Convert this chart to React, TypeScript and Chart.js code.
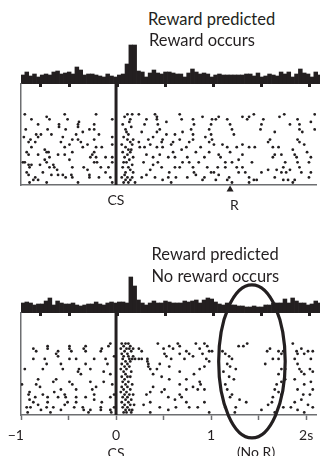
import React, { useEffect, useRef } from 'react';
import { Chart, registerables } from 'chart.js';

Chart.register(...registerables);

const INK = '#231f20';
const AXIS_GREY = '#6d6e71';
const FONT = 'Lato, "Open Sans", sans-serif';

const T_MIN = -1;
const T_MAX = 2.104;
const CS_TIME = 0;
const REWARD_TIME = 1.2;
const NO_REWARD_TIME = 1.43;
const ELLIPSE_HALF_WIDTH = 0.35;
const ELLIPSE_CENTER_TRIAL = 21;
const ELLIPSE_HALF_HEIGHT = 30;
const TRIAL_MAX = 40;
const HIST_MAX = 44;

const HIST_TICKS = [-0.8, -0.5, 0, 0.5, 1, 1.5, 2];
const AXIS_TICKS = [-1, -0.5, 0, 0.5, 1, 1.5, 2];
const AXIS_LABELS: (string | string[])[] = ['−1\u2003', '', ['0', 'CS'], '', '1', '', '2s'];

const BIN_CENTERS = [
  -0.98, -0.94, -0.9, -0.86, -0.82, -0.78, -0.74, -0.7, -0.66, -0.62,
  -0.58, -0.54, -0.5, -0.46, -0.42, -0.38, -0.34, -0.3, -0.26, -0.22,
  -0.18, -0.14, -0.1, -0.06, -0.02, 0.02, 0.06, 0.1, 0.14, 0.18,
  0.22, 0.26, 0.3, 0.34, 0.38, 0.42, 0.46, 0.5, 0.54, 0.58,
  0.62, 0.66, 0.7, 0.74, 0.78, 0.82, 0.86, 0.9, 0.94, 0.98,
  1.02, 1.06, 1.1, 1.14, 1.18, 1.22, 1.26, 1.3, 1.34, 1.38,
  1.42, 1.46, 1.5, 1.54, 1.58, 1.62, 1.66, 1.7, 1.74, 1.78,
  1.82, 1.86, 1.9, 1.94, 1.98, 2.02, 2.06, 2.1,
];

const HIST_REWARD = [
  9, 12, 8, 10, 7, 9, 10, 9, 12, 13,
  10, 11, 12, 10, 17, 14, 9, 10, 10, 9,
  8, 7, 10, 8, 7, 9, 10, 20, 39, 39,
  13, 12, 7, 11, 14, 11, 10, 12, 12, 11,
  10, 10, 7, 11, 15, 12, 10, 11, 10, 7,
  9, 10, 9, 9, 9, 9, 9, 9, 10, 10,
  8, 11, 7, 8, 10, 9, 8, 12, 10, 12,
  7, 10, 15, 11, 10, 7, 12, 9,
];

const HIST_NO_REWARD = [
  10, 11, 10, 8, 9, 9, 12, 15, 8, 12,
  10, 9, 9, 10, 8, 7, 8, 9, 9, 11,
  9, 8, 10, 11, 10, 11, 11, 10, 36, 27,
  13, 10, 8, 10, 12, 10, 10, 12, 11, 10,
  10, 10, 12, 11, 12, 13, 10, 13, 15, 14,
  11, 9, 8, 10, 8, 8, 7, 7, 6, 6,
  7, 6, 6, 8, 8, 10, 10, 10, 14, 10,
  15, 12, 10, 10, 8, 9, 12, 10,
];

// spike times (s) per trial, trial 1 at the bottom
const RASTER_REWARD: number[][] = [
  [-0.91, -0.73, -0.4, -0.04, 0.08, 0.13, 0.2, 0.58, 1.22, 1.4, 1.86],
  [-0.87, -0.82, 0.1, 0.15, 0.49, 0.91, 1.05, 1.17, 1.45, 1.48, 1.76, 1.81, 1.88],
  [-0.85, -0.53, -0.46, -0.28, -0.18, -0.06, 0.06, 0.12, 0.17, 0.27, 0.41, 0.55, 0.63, 0.75, 0.93, 1.19, 1.4, 1.67, 2.03],
  [-0.92, -0.68, -0.61, -0.56, -0.47, -0.28, 0.09, 0.32, 0.84, 1.08],
  [-0.94, -0.77, -0.11, 0.1, 0.18, 0.56, 0.82, 1.0, 1.03, 1.29, 1.36, 1.53, 1.74, 1.79, 1.95, 2.05],
  [-0.62, -0.3, 0.15, 0.36, 1.6, 1.69, 1.83],
  [-0.91, -0.7, -0.65, -0.46, -0.34, -0.16, -0.08, 0.07, 0.13, 0.48, 0.62, 0.67, 0.81, 0.96, 1.07, 1.15, 1.27, 1.33, 1.76, 1.93],
  [-0.92, -0.89, -0.8, -0.66, 0.17, 0.39],
  [-0.98, -0.96, -0.73, -0.23, -0.2, -0.04, 0.08, 0.11, 0.29, 0.44, 0.7, 0.77, 0.87, 1.15, 1.22, 1.43, 1.78, 1.91, 2.03],
  [-0.75, -0.49, 0.14, 1.29],
  [-0.7, -0.27, -0.21, -0.11, -0.04, 0.09, 0.18, 0.39, 0.55, 0.62, 0.75, 0.93, 1.1, 1.65, 1.9, 2.05],
  [-0.92, -0.82, -0.61, -0.54, -0.25, 0.12, 0.32, 0.46, 1.08, 1.33, 1.67, 1.74, 1.88],
  [-0.94, -0.73, -0.71, -0.46, -0.23, 0.07, 0.15, 0.6, 0.84, 0.98, 1.2, 2.01],
  [-0.75, 0.13, 0.16, 0.69, 1.86],
  [-0.89, -0.54, -0.35, -0.21, -0.15, 0.1, 0.25, 0.3, 0.43, 0.49, 0.74, 0.89, 1.17, 1.27, 1.4, 1.46, 1.65, 1.71],
  [-0.49, -0.3, -0.04, 0.06, 0.17, 0.36, 0.58, 1.03, 1.12, 1.33, 1.98],
  [-0.92, -0.85, -0.58, -0.37, 0.15, 0.24, 0.48, 0.6, 0.77, 0.98, 1.6, 1.93],
  [-0.9, -0.46, -0.4, -0.23, 0.12, 0.18, 0.34, 0.49, 0.67, 0.81, 1.01, 1.62, 1.91],
  [-0.97, -0.82, -0.56, -0.04, 0.08, 0.39, 0.94],
  [-0.84, -0.79, -0.68, -0.42, -0.18, 0.13, 0.53, 0.62, 0.81, 1.0, 1.24],
  [-0.35, 0.11, 0.27, 0.43, 0.7, 1.67, 1.96],
  [-0.95, -0.72, -0.53, -0.28, -0.23, 0.1, 0.46, 0.79, 0.98, 1.22, 1.52, 1.93, 2.09],
  [-0.6, -0.4, 0.16],
  [-0.82, -0.6, -0.4, -0.23, 0.07, 0.3, 0.44, 0.82, 1.0, 1.2, 1.53, 1.83, 1.93],
  [-0.39, 0.14, 0.53, 2.05],
  [-0.89, -0.7, -0.51, -0.04, 0.15, 0.32, 0.43, 0.69, 0.81, 1.01, 1.05, 1.17, 1.38, 1.55, 1.91],
  [-0.73, 0.09, 0.43, 0.91, 1.08, 1.33, 1.4, 1.72],
  [-0.96, -0.54, -0.21, 0.12, 0.17, 0.24, 0.41, 0.67, 1.45, 1.77, 2.09],
];

const RASTER_NO_REWARD: number[][] = [
  [-0.93, -0.69, -0.29, -0.05, 0.08, 0.11, 0.16, 0.36, 0.98, 1.25, 1.67, 1.98],
  [-0.79, -0.58, -0.34, -0.27, -0.16, -0.06, 0.1, 0.14, 0.17, 0.55, 1.53, 1.91],
  [-0.94, -0.9, -0.73, -0.66, -0.44, -0.35, -0.16, -0.02, 0.07, 0.12, 0.46, 0.63, 0.77, 0.86, 1.15, 1.26, 1.76, 1.84, 2.07],
  [-0.82, -0.54, 0.09, 0.15, 0.19, 0.29, 1.6, 2.02],
  [-0.87, -0.72, -0.51, -0.42, -0.15, 0.06, 0.13, 0.36, 0.74, 0.93, 1.37, 1.64, 1.88],
  [-0.91, -0.23, 0.1, 0.16, 0.62, 1.3, 1.95],
  [-0.85, -0.72, -0.61, -0.53, -0.42, -0.32, -0.06, 0.07, 0.12, 0.55, 0.69, 1.2, 1.65],
  [-0.92, -0.77, -0.54, -0.23, -0.02, 0.09, 0.14, 0.18, 0.32, 0.67, 1.22, 1.74, 1.97, 2.04],
  [-0.91, -0.65, 0.05, 0.11, 0.36, 0.48, 1.71],
  [-0.58, -0.42, -0.25, 0.08, 0.15, 0.51, 0.74, 0.86, 0.93, 1.17, 1.67, 1.91, 2.07],
  [-0.8, -0.21, 0.06, 0.12, 0.39, 0.81],
  [-0.99, -0.84, -0.46, -0.04, 0.1, 0.17, 0.67, 0.89, 1.15, 1.69, 1.98],
  [-0.66, -0.49, -0.27, -0.13, 0.07, 0.13, 0.88, 1.74, 2.05],
  [-0.82, -0.63, 0.09, 0.56, 0.74, 1.24, 1.78, 1.88],
  [0.06, 0.12, 0.15, 0.48, 1.19],
  [-0.37, -0.06, 0.1, 0.39, 0.82, 1.71, 1.98],
  [-0.4, -0.13, 0.08, 0.16, 0.67, 1.13, 1.95, 2.07],
  [-0.96, -0.77, -0.56, -0.39, -0.27, 0.05, 0.11, 0.36, 0.43, 0.88, 1.26, 1.74, 1.78, 1.93, 2.04],
  [0.09, 0.14, 0.34, 0.56, 0.93, 1.2],
  [-0.73, -0.58, -0.32, -0.09, 0.06, 0.12, 0.34, 0.46, 1.17, 1.57, 1.91],
  [0.1, 0.15, 0.33, 0.98],
  [-0.87, -0.75, -0.49, -0.42, -0.23, -0.11, 0.07, 0.14, 0.17, 0.2, 0.24, 0.27, 0.33, 0.58, 0.72, 0.95, 1.22, 1.65, 1.71, 1.88, 2.05],
  [-0.61, -0.02, 0.08, 0.13, 0.18, 0.53, 0.81, 1.19],
  [-0.63, 0.06, 0.12, 0.51, 0.67, 0.77, 0.91, 1.15, 1.74, 1.91, 1.98],
  [-0.84, -0.61, -0.47, -0.32, -0.16, 0.09, 0.16, 0.27, 0.74, 0.98, 1.01, 1.12, 1.59, 1.71, 1.76, 1.9, 2.02, 2.07],
  [-0.87, -0.72, -0.49, -0.34, -0.15, 0.05, 0.11, 0.14, 0.18, 0.24, 0.5, 0.6, 0.88, 1.62, 1.95],
  [-0.72, -0.49, -0.32, -0.08, 0.08, 0.15, 0.56, 0.67, 0.96, 1.29, 1.34],
  [-0.06, 0.06, 0.1, 0.13, 0.44, 0.65, 0.84, 0.93, 1.38, 1.86],
];

function makeHistogram(canvas: HTMLCanvasElement, values: number[]) {
  return new Chart(canvas, {
    type: 'bar',
    data: {
      datasets: [
        {
          data: BIN_CENTERS.map((x, i) => ({ x, y: values[i] })),
          backgroundColor: INK,
          borderWidth: 0,
          barPercentage: 1,
          categoryPercentage: 1,
        },
      ],
    },
    options: {
      animation: false,
      responsive: false,
      events: [],
      layout: { padding: { left: 21, right: 0, top: 4, bottom: 0 } },
      plugins: { legend: { display: false }, tooltip: { enabled: false } },
      scales: {
        x: {
          type: 'linear',
          min: T_MIN,
          max: T_MAX,
          offset: false,
          afterBuildTicks: (s: any) => {
            s.ticks = HIST_TICKS.map((v) => ({ value: v }));
          },
          afterFit: (s: any) => {
            s.height = 6;
            s.paddingLeft = 0;
            s.paddingRight = 0;
          },
          ticks: { display: false },
          grid: {
            display: true,
            offset: false,
            drawOnChartArea: false,
            drawTicks: true,
            tickLength: 3,
            tickWidth: 3,
            tickColor: INK,
            color: INK,
          },
          border: { display: false },
        },
        y: { display: false, min: 0, max: HIST_MAX },
      },
    } as any,
  });
}

const rewardMarker = {
  id: 'rewardMarker',
  afterDraw(chart: any) {
    const { ctx, chartArea, scales } = chart;
    const x = scales.x.getPixelForValue(REWARD_TIME);
    const y = chartArea.bottom + 0.5;
    ctx.save();
    ctx.fillStyle = INK;
    ctx.beginPath();
    ctx.moveTo(x, y);
    ctx.lineTo(x + 3.5, y + 6);
    ctx.lineTo(x - 3.5, y + 6);
    ctx.closePath();
    ctx.fill();
    ctx.restore();
  },
};

const omissionEllipse = {
  id: 'omissionEllipse',
  afterDraw(chart: any) {
    const { ctx, scales } = chart;
    const { x, y } = scales;
    const cx = x.getPixelForValue(NO_REWARD_TIME);
    const rx = x.getPixelForValue(NO_REWARD_TIME + ELLIPSE_HALF_WIDTH) - cx;
    const cy = y.getPixelForValue(ELLIPSE_CENTER_TRIAL);
    const ry = cy - y.getPixelForValue(ELLIPSE_CENTER_TRIAL + ELLIPSE_HALF_HEIGHT);
    ctx.save();
    ctx.lineWidth = 3.2;
    ctx.strokeStyle = INK;
    ctx.beginPath();
    ctx.ellipse(cx, cy, rx, ry, 0, 0, Math.PI * 2);
    ctx.stroke();
    ctx.restore();
  },
};

function makeRaster(
  canvas: HTMLCanvasElement,
  rows: number[][],
  padTop: number,
  axisHeight: number,
  withAxis: boolean,
  plugin: any
) {
  const points = rows.flatMap((times, i) => times.map((t) => ({ x: t, y: i + 1 })));
  const xScale: any = {
    type: 'linear',
    min: T_MIN,
    max: T_MAX,
    border: { display: true, color: AXIS_GREY, width: 1.5 },
    afterFit: (s: any) => {
      s.height = axisHeight;
      s.paddingLeft = 0;
      s.paddingRight = 0;
    },
  };
  if (withAxis) {
    xScale.afterBuildTicks = (s: any) => {
      s.ticks = AXIS_TICKS.map((v) => ({ value: v }));
    };
    xScale.ticks = {
      display: true,
      autoSkip: false,
      maxRotation: 0,
      padding: 6,
      color: INK,
      font: { family: FONT, size: 14, lineHeight: 1.3 },
      callback: (_v: any, i: number) => AXIS_LABELS[i],
    };
    xScale.grid = {
      display: true,
      drawOnChartArea: false,
      drawTicks: true,
      tickLength: 5,
      tickWidth: 1.5,
      tickColor: AXIS_GREY,
    };
  } else {
    xScale.ticks = { display: false };
    xScale.grid = { display: false };
  }
  return new Chart(canvas, {
    type: 'scatter',
    data: {
      datasets: [
        {
          type: 'line',
          data: [
            { x: CS_TIME, y: 0 },
            { x: CS_TIME, y: TRIAL_MAX },
          ],
          borderColor: INK,
          borderWidth: 3,
          pointRadius: 0,
          borderCapStyle: 'butt',
        },
        {
          data: points,
          pointRadius: 1.4,
          pointBackgroundColor: INK,
          pointBorderWidth: 0,
          backgroundColor: INK,
        },
      ],
    } as any,
    options: {
      animation: false,
      responsive: false,
      events: [],
      layout: { padding: { left: 21, right: 0, top: padTop, bottom: 0 } },
      plugins: { legend: { display: false }, tooltip: { enabled: false } },
      scales: {
        x: xScale,
        y: {
          min: 0,
          max: TRIAL_MAX,
          ticks: { display: false },
          grid: { display: false },
          border: { display: true, color: AXIS_GREY, width: 1.5 },
          afterFit: (s: any) => {
            s.width = 0;
          },
        },
      },
    } as any,
    plugins: plugin ? [plugin] : [],
  });
}

function ChartCanvas({
  top,
  height,
  build,
}: {
  top: number;
  height: number;
  build: (c: HTMLCanvasElement) => Chart;
}) {
  const ref = useRef<HTMLCanvasElement>(null);
  useEffect(() => {
    const chart = build(ref.current as HTMLCanvasElement);
    return () => chart.destroy();
  }, []);
  return (
    <canvas
      ref={ref}
      width={320}
      height={height}
      style={{ position: 'absolute', left: 0, top, width: 320, height }}
    />
  );
}

function Label({
  text,
  left,
  top,
  size,
  center,
}: {
  text: string;
  left: number;
  top: number;
  size: number;
  center?: boolean;
}) {
  return (
    <div
      style={{
        position: 'absolute',
        left: center ? left - 50 : left,
        width: center ? 100 : undefined,
        textAlign: center ? 'center' : 'left',
        top,
        fontFamily: FONT,
        fontSize: size,
        lineHeight: 1,
        color: INK,
        whiteSpace: 'nowrap',
        zIndex: 5,
      }}
    >
      {text}
    </div>
  );
}

export default function App() {
  return (
    <div
      style={{
        position: 'fixed',
        left: 0,
        top: 0,
        width: 320,
        height: 456,
        background: '#ffffff',
        overflow: 'hidden',
      }}
    >
      <ChartCanvas top={36} height={54} build={(c) => makeHistogram(c, HIST_REWARD)} />
      <ChartCanvas
        top={80}
        height={135}
        build={(c) => makeRaster(c, RASTER_REWARD, 4, 30, false, rewardMarker)}
      />
      <ChartCanvas top={265} height={54} build={(c) => makeHistogram(c, HIST_NO_REWARD)} />
      <ChartCanvas
        top={269}
        height={187}
        build={(c) => makeRaster(c, RASTER_NO_REWARD, 44, 41, true, omissionEllipse)}
      />
      <Label text="Reward predicted" left={148} top={11.4} size={16.5} />
      <Label text="Reward occurs" left={149} top={32.4} size={16.5} />
      <Label text="CS" left={116} top={192.6} size={14} center />
      <Label text="R" left={234.5} top={197.6} size={14} center />
      <Label text="Reward predicted" left={151.5} top={246.1} size={16.5} />
      <Label text="No reward occurs" left={151.5} top={268.1} size={16.5} />
      <Label text="(No R)" left={256} top={445.1} size={14} center />
    </div>
  );
}
